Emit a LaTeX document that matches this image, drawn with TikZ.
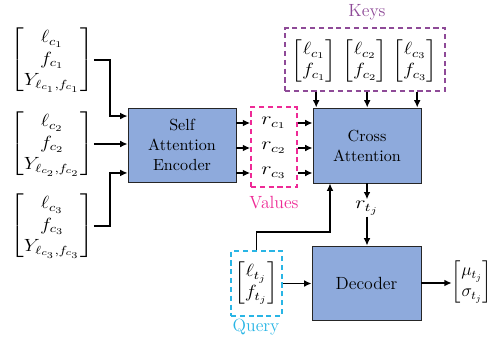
\documentclass[tikz,border=0pt,12pt]{standalone}
\usepackage{amsmath}
\usepackage{graphicx}
\usetikzlibrary{arrows.meta,calc}
\definecolor{boxfill}{HTML}{8EAADC}
\definecolor{keyc}{HTML}{8E4A97}
\definecolor{valc}{HTML}{EE2A96}
\definecolor{qc}{HTML}{29B5E5}
\newcommand\hx[2]{\scalebox{#1}[1]{#2}}
\tikzset{
  blk/.style={draw=black!85, line width=0.6pt, fill=boxfill, align=center, inner sep=0pt},
  arr/.style={line width=1.3pt, -{Latex[length=5pt,width=4.6pt]}},
  grp/.style={draw, dashed, line width=1pt, dash pattern=on 3.5pt off 2.5pt, inner sep=0pt},
  vec/.style={inner sep=0pt},
  lbl/.style={inner sep=0pt}
}
\begin{document}
\begin{tikzpicture}[x=0.68pt,y=-0.68pt]
\useasboundingbox (0,0) rectangle (493,341);
% inputs
\node[vec] (v1) at (52,60) {\hx{1.15}{$\begin{bmatrix}\ell_{c_1}\\ f_{c_1}\\ Y_{\ell_{c_1},f_{c_1}}\end{bmatrix}$}};
\node[vec] (v2) at (52,144) {\hx{1.15}{$\begin{bmatrix}\ell_{c_2}\\ f_{c_2}\\ Y_{\ell_{c_2},f_{c_2}}\end{bmatrix}$}};
\node[vec] (v3) at (52,226) {\hx{1.15}{$\begin{bmatrix}\ell_{c_3}\\ f_{c_3}\\ Y_{\ell_{c_3},f_{c_3}}\end{bmatrix}$}};
% blocks
\node[blk, font=\small, minimum width=73.4pt, minimum height=50.3pt] (enc) at (182,145) {Self\\Attention\\Encoder};
\node[blk, font=\small, minimum width=73.4pt, minimum height=51pt] (cross) at (367,145.5) {Cross\\Attention};
\node[blk, minimum width=74.1pt, minimum height=50.3pt] (dec) at (366.5,283) {Decoder};
% values
\node[grp, draw=valc, minimum width=31.3pt, minimum height=54.4pt] (vals) at (274,147) {};
\node[inner sep=0pt] (r1) at (274,123) {\hx{1.25}{$r_{c_1}$}};
\node[inner sep=0pt] (r2) at (274,148) {\hx{1.25}{$r_{c_2}$}};
\node[inner sep=0pt] (r3) at (274,173) {\hx{1.25}{$r_{c_3}$}};
\node[lbl, text=valc] (vlab) at (274,203) {Values};
% keys
\node[grp, draw=keyc, minimum width=108.8pt, minimum height=42.8pt] (keys) at (365,59.5) {};
\node[vec] (k1) at (314,61) {\hx{1.15}{$\begin{bmatrix}\ell_{c_1}\\ f_{c_1}\end{bmatrix}$}};
\node[vec] (k2) at (365,61) {\hx{1.15}{$\begin{bmatrix}\ell_{c_2}\\ f_{c_2}\end{bmatrix}$}};
\node[vec] (k3) at (415,61) {\hx{1.15}{$\begin{bmatrix}\ell_{c_3}\\ f_{c_3}\end{bmatrix}$}};
\node[lbl, text=keyc] (klab) at (367,12) {Keys};
% query
\node[grp, draw=qc, minimum width=34.7pt, minimum height=44.2pt] (qbox) at (256.5,283.5) {};
\node[vec] (q) at (256,283) {\hx{1.15}{$\begin{bmatrix}\ell_{t_j}\\ f_{t_j}\end{bmatrix}$}};
\node[lbl, text=qc] (qlab) at (256,327) {Query};
% output
\node[vec] (out) at (472,282) {$\begin{bmatrix}\mu_{t_j}\\ \sigma_{t_j}\end{bmatrix}$};
\node[inner sep=1pt] (rt) at (367,208) {\hx{1.25}{$r_{t_j}$}};
% connectors
\coordinate (jx) at (110,0);
\draw[arr] (v1.east) -- (v1.east -| jx) |- ([yshift=19.7pt]enc.west);
\draw[arr] (v2.east) -- (v2.east -| enc.west);
\draw[arr] (v3.east) -- (v3.east -| jx) |- ([yshift=-19pt]enc.west);
\foreach \r in {r1,r2,r3}{
  \draw[arr] (enc.east |- \r) -- (vals.west |- \r);
  \draw[arr] (vals.east |- \r) -- (cross.west |- \r);
}
\foreach \k in {k1,k2,k3}{
  \draw[arr] ([xshift=1.5pt]\k |- keys.south) -- ([xshift=1.5pt]\k |- cross.north);
}
\draw[arr] (cross.south -| rt) -- (rt.north);
\draw[arr] (rt.south) -- (rt |- dec.north);
\coordinate (qturn) at (330,232);
\draw[arr] (qbox.north) |- (qturn) -- (qturn |- cross.south);
\draw[arr] (qbox.east) -- (qbox.east -| dec.west);
\draw[arr] (dec.east) -- (dec.east -| out.west);
\end{tikzpicture}
\end{document}
